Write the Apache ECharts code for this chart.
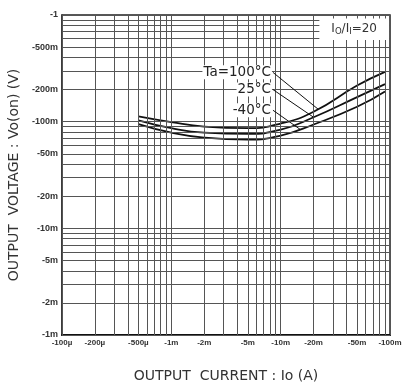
<!DOCTYPE html>
<html>
<head>
<meta charset="utf-8">
<script src="https://cdn.jsdelivr.net/npm/echarts@6/dist/echarts.min.js"></script>
<style>
  html, body { margin: 0; padding: 0; background: #fff; }
  #main { width: 411px; height: 387px; }
</style>
</head>
<body>
<div id="main"></div>
<script>
// output current Io (A), negative
let currents = [-0.5e-3, -1e-3, -2e-3, -5e-3, -10e-3, -20e-3, -50e-3, -90e-3];
// output voltage Vo(on) (V) per temperature
let v100 = [-0.112, -0.099, -0.090, -0.087, -0.096, -0.124, -0.218, -0.293];
let v25 = [-0.103, -0.087, -0.079, -0.077, -0.084, -0.110, -0.170, -0.225];
let vMinus40 = [-0.095, -0.079, -0.071, -0.068, -0.074, -0.094, -0.138, -0.192];

let xTickValues = [1e-4, 2e-4, 5e-4, 1e-3, 2e-3, 5e-3, 1e-2, 2e-2, 5e-2, 1e-1];
let xTickLabels = ["-100µ", "-200µ", "-500µ", "-1m", "-2m", "-5m", "-10m", "-20m", "-50m", "-100m"];
let yTickValues = [1, 0.5, 0.2, 0.1, 0.05, 0.02, 0.01, 0.005, 0.002, 0.001];
let yTickLabels = ["-1", "-500m", "-200m", "-100m", "-50m", "-20m", "-10m", "-5m", "-2m", "-1m"];

// leader lines: [text anchor, point on curve], magnitudes
let leaders = [
    { text: "Ta=100°C", from: [8.5e-3, 0.29], to: [0.022, 0.131] },
    { text: "25°C", from: [8.5e-3, 0.20], to: [0.02, 0.110] },
    { text: "-40°C", from: [8.5e-3, 0.128], to: [0.015, 0.085] },
];

let font = "Liberation Sans";

function toPairs(xs, ys) {
    return xs.map(function (x, i) {
        return [Math.abs(x), Math.abs(ys[i])];
    });
}

function labelFor(values, labels, v) {
    for (let i = 0; i < values.length; i++) {
        if (Math.abs(values[i] - v) / v < 1e-6) return labels[i];
    }
    return null;
}

function tickLabel(text, size) {
    return {
        show: true,
        position: "start",
        formatter: text,
        color: "#333",
        fontFamily: font,
        fontSize: size,
        fontWeight: "bold",
        distance: 4,
    };
}

// log grid lines 1..9 per decade, with tick labels on the 1-2-5 ones
let gridLines = [];
[1e-4, 1e-3, 1e-2, 1e-1].forEach(function (d) {
    for (let k = 1; k <= 9; k++) {
        let v = k * d;
        if (v > 0.1 + 1e-9) break;
        let item = { xAxis: v };
        let t = labelFor(xTickValues, xTickLabels, v);
        if (t) item.label = tickLabel(t, 8);
        gridLines.push(item);
    }
});
[1e-3, 1e-2, 1e-1, 1].forEach(function (d) {
    for (let k = 1; k <= 9; k++) {
        let v = k * d;
        if (v > 1 + 1e-9) break;
        let item = { yAxis: v };
        let t = labelFor(yTickValues, yTickLabels, v);
        if (t) item.label = tickLabel(t, 9);
        gridLines.push(item);
    }
});

let dom = document.getElementById("main");
let myChart = echarts.init(dom, null, { renderer: "canvas" });

function curve(name, ys) {
    return {
        name: name,
        type: "line",
        data: toPairs(currents, ys),
        smooth: true,
        symbol: "none",
        z: 4,
        lineStyle: { color: "#111", width: 1.8 },
    };
}

let option = {
    animation: false,
    title: {
        text: "I{s|O}/I{s|I}=20",
        right: 22,
        top: 17,
        backgroundColor: "#fff",
        padding: [4, 12, 4, 12],
        textStyle: {
            fontFamily: "DejaVu Sans",
            fontSize: 12,
            fontWeight: "normal",
            color: "#333",
            rich: { s: { fontSize: 8.5, fontFamily: "DejaVu Sans", color: "#333", padding: [6, 0, 0, 0] } },
        },
        z: 10,
    },
    grid: {
        left: 62,
        right: 21,
        top: 15,
        bottom: 52,
        outerBoundsMode: "none",
        containLabel: false,
        show: true,
        borderColor: "#222",
        borderWidth: 1.5,
    },
    xAxis: {
        type: "log",
        logBase: 10,
        min: 1e-4,
        max: 0.1,
        name: "OUTPUT  CURRENT : Io (A)",
        nameLocation: "middle",
        nameGap: 34,
        nameTextStyle: { fontFamily: "DejaVu Sans", fontSize: 14, color: "#333" },
        axisLine: { lineStyle: { color: "#111", width: 2 } },
        axisTick: { show: false },
        axisLabel: { show: false },
        splitLine: { show: false },
    },
    yAxis: {
        type: "log",
        logBase: 10,
        min: 1e-3,
        max: 1,
        name: "OUTPUT  VOLTAGE : Vo(on) (V)",
        nameLocation: "middle",
        nameGap: 41,
        nameTextStyle: { fontFamily: "DejaVu Sans", fontSize: 14, color: "#333" },
        axisLine: { show: true, lineStyle: { color: "#333", width: 1.5 } },
        axisTick: { show: false },
        axisLabel: { show: false },
        splitLine: { show: false },
    },
    series: [
        {
            type: "line",
            data: [],
            z: 1,
            clip: false,
            markLine: {
                silent: true,
                symbol: "none",
                precision: 10,
                animation: false,
                lineStyle: { color: "#555", width: 1, type: "solid" },
                label: { show: false },
                data: gridLines,
            },
        },
        curve("100", v100),
        curve("25", v25),
        curve("-40", vMinus40),
        {
            type: "line",
            data: [],
            z: 5,
            clip: false,
            markLine: {
                silent: true,
                symbol: "none",
                precision: 10,
                animation: false,
                lineStyle: { color: "#111", width: 1, type: "solid" },
                label: { show: false },
                data: leaders.map(function (l) {
                    return [{ coord: l.from }, { coord: l.to }];
                }),
            },
            markPoint: {
                silent: true,
                symbol: "circle",
                symbolSize: 0,
                animation: false,
                label: {
                    show: true,
                    position: "left",
                    distance: 1,
                    color: "#222",
                    fontFamily: "DejaVu Sans",
                    fontSize: 13.5,
                    backgroundColor: "#fff",
                    padding: [0, 1, 0, 1],
                },
                data: leaders.map(function (l) {
                    return { coord: l.from, label: { formatter: l.text } };
                }),
            },
        },
    ],
};

myChart.setOption(option);
window.addEventListener("resize", myChart.resize);
</script>
</body>
</html>
